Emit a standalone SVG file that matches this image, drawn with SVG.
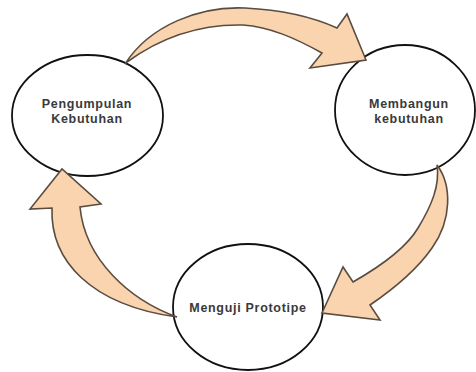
<svg xmlns="http://www.w3.org/2000/svg" width="476" height="372" viewBox="0 0 476 372">
<style>
.node{fill:#ffffff;stroke:#111111;stroke-width:1.8}
.arrow{fill:#f9d4ae;stroke:#5a4c40;stroke-width:1.6;stroke-linejoin:miter}
.lbl{font-family:"Liberation Sans",Arial,sans-serif;font-size:12.5px;font-weight:bold;fill:#3a3a3a;text-anchor:middle;letter-spacing:0.7px}
</style>
<rect x="0" y="0" width="476" height="372" fill="#ffffff"/>
<g id="node-pengumpulan">
<ellipse class="node" cx="87.5" cy="115.5" rx="75.5" ry="60.5"/>
<text class="lbl" x="87" y="107.5">Pengumpulan</text>
<text class="lbl" x="87" y="122.5">Kebutuhan</text>
</g>
<g id="node-membangun">
<ellipse class="node" cx="405" cy="110" rx="70" ry="65"/>
<text class="lbl" x="409" y="107.5">Membangun</text>
<text class="lbl" x="409" y="122.5">kebutuhan</text>
</g>
<g id="node-menguji">
<ellipse class="node" cx="248" cy="307" rx="75" ry="63"/>
<text class="lbl" x="248" y="312">Menguji Prototipe</text>
</g>
<g id="connectors">
<path class="arrow" d="M125,64 C150,25 200,6 245,8 C285,10 315,18 337,28 L347,14 L366,60 L310,68 L322,53 C295,38 270,27 243,25 C200,24 160,38 127,62 Z"/>
<path class="arrow" d="M437,165 C452,185 452,220 432,248 C418,268 395,288 370,305 L380,320 L322,313 L343,267 L353,282 C388,262 408,245 418,228 C432,205 440,185 437,165 Z"/>
<path class="arrow" d="M177,317 C130,300 85,260 80,207 L101,204 L62,169 L30,209 L52,208 C50,260 90,305 177,317 Z"/>
</g>
</svg>
